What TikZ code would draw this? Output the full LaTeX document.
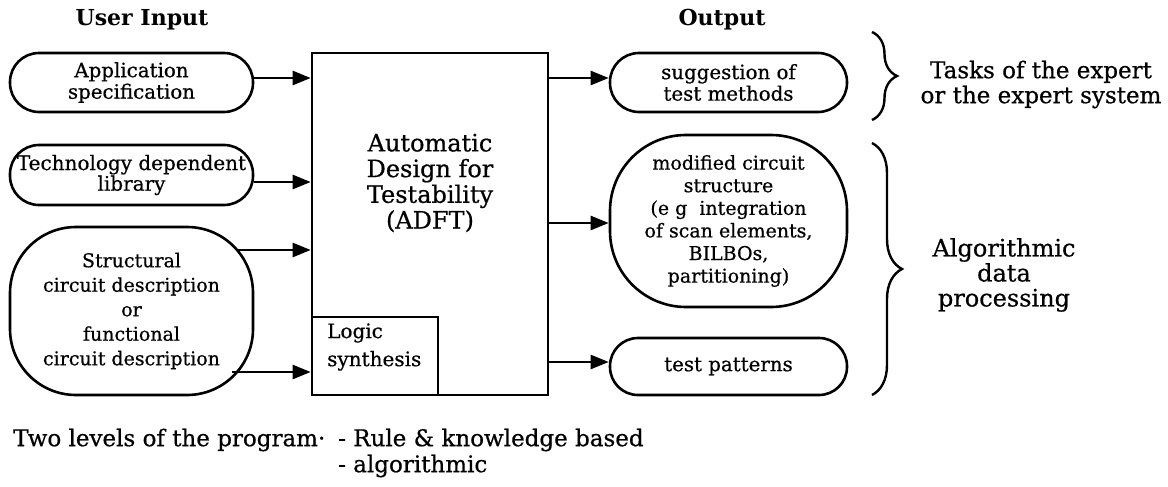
\documentclass[tikz,border=0pt]{standalone}
\usepackage{fontspec}
\setmainfont{DejaVu Serif}
\newfontfamily\txt[FakeBold=0.6]{DejaVu Serif}
\usetikzlibrary{arrows.meta,decorations.pathreplacing}
\begin{document}
\begin{tikzpicture}[x=1pt,y=-1pt,
  box/.style={draw, line width=2.6pt, align=center, inner sep=0pt, font=\txt\fontsize{19.8}{21.5}\selectfont},
  arr/.style={line width=2.4pt, -{Triangle[length=18pt,width=14pt]}},
  lbl/.style={align=center, inner sep=0pt, font=\txt\fontsize{24}{25}\selectfont},
  ttl/.style={inner sep=0pt, font=\fontsize{22}{22}\selectfont\bfseries},
  bot/.style={anchor=west, inner sep=0pt, font=\txt\fontsize{23}{25}\selectfont},
  bracestyle/.style={line width=2.4pt, decorate},
]
\useasboundingbox (0,0) rectangle (1168,487);

% titles
\node[ttl] (tin) at (142,20) {User Input};
\node[ttl] (tout) at (722,20) {Output};

% input boxes
\node[box, minimum width=243pt, minimum height=59pt, rounded corners=29pt] (in1) at (131.5,82.5)
  {Application\\specification};
\node[box, minimum width=243pt, minimum height=60pt, rounded corners=29pt,
      font=\txt\fontsize{20}{17.5}\selectfont] (in2) at (131.5,175)
  {Technology dependent\\library};
\node[box, minimum width=243pt, minimum height=168pt, rounded corners=66pt,
      font=\txt\fontsize{19}{24.5}\selectfont] (in3) at (131.5,311)
  {Structural\\circuit description\\or\\functional\\circuit description};

% main block
\node[draw, line width=2.6pt, minimum width=236pt, minimum height=342pt, inner sep=0pt] (main) at (430,224) {};
\node[align=center, inner sep=0pt, font=\txt\fontsize{24}{25.7}\selectfont] (adft) at (430,183)
  {Automatic\\Design for\\Testability\\(ADFT)};
\node[draw, line width=2.6pt, minimum width=126pt, minimum height=78pt, inner sep=0pt,
      anchor=south west] (logic) at (main.south west) {};
\node[align=left, anchor=west, inner sep=0pt, font=\txt\fontsize{20}{28}\selectfont] (logtxt) at (327,347)
  {Logic\\synthesis};

% output boxes
\node[box, minimum width=237pt, minimum height=59pt, rounded corners=29pt] (outA) at (728.5,82.5)
  {suggestion of\\test methods};
\node[box, minimum width=237pt, minimum height=172pt, rounded corners=76pt,
      font=\txt\fontsize{19}{22.6}\selectfont] (outB) at (728.5,221)
  {modified circuit\\structure\\(e g\ \ integration\\of scan elements,\\BILBOs,\\partitioning)};
\node[box, minimum width=237pt, minimum height=57pt, rounded corners=28pt] (outC) at (728.5,366.5)
  {test patterns};

% input connectors
\coordinate (p1) at ([yshift=4.5pt]in1.east);
\coordinate (p2) at ([yshift=-7pt]in2.east);
\coordinate (p3) at (237.5,250);
\coordinate (p4) at (232,372);
\draw[arr] (p1) -- (p1 -| main.west);
\draw[arr] (p2) -- (p2 -| main.west);
\draw[arr] (p3) -- (p3 -| main.west);
\draw[arr] (p4) -- (p4 -| main.west);

% output connectors
\coordinate (qa) at ([yshift=4.5pt]outA.west);
\coordinate (qb) at ([yshift=-2pt]outB.west);
\coordinate (qc) at ([yshift=4.5pt]outC.west);
\draw[arr] (qa -| main.east) -- (qa);
\draw[arr] (qb -| main.east) -- (qb);
\draw[arr] (qc -| main.east) -- (qc);

% braces
\coordinate (b1s) at (872,32);
\coordinate (b1e) at (872,120);
\coordinate (b2s) at (872,143);
\coordinate (b2e) at (872,395);
\draw[bracestyle, decoration={brace, amplitude=25pt}] (b1s) -- (b1e);
\draw[bracestyle, decoration={brace, amplitude=30pt}] (b2s) -- (b2e);

% side labels
\node[lbl, font=\txt\fontsize{23}{25}\selectfont] (tasks) at (1041,84.5) {Tasks of the expert\\or the expert system};
\node[lbl] (algo) at (1004,275) {Algorithmic\\data\\processing};

% bottom text
\node[bot] (two) at (13,440) {Two levels of the program·};
\node[bot] (rule) at (338,440) {- Rule \& knowledge based};
\node[bot] (alg) at (338,466) {- algorithmic};
\end{tikzpicture}
\end{document}
